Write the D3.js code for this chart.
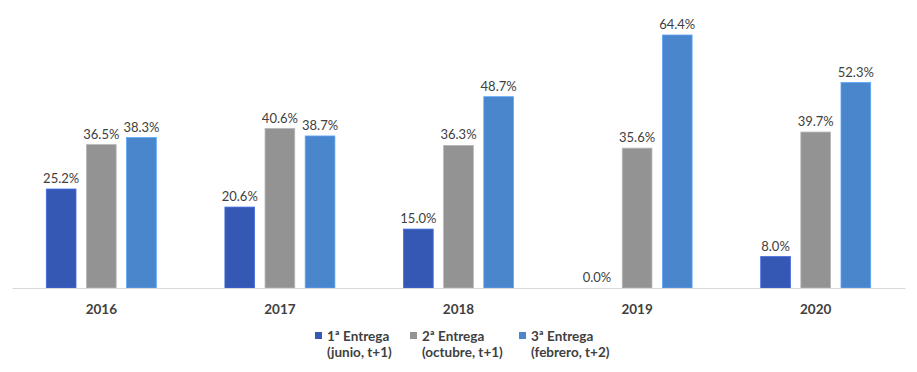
<!DOCTYPE html>
<html>
<head>
<meta charset="utf-8">
<script src="https://cdn.jsdelivr.net/npm/d3@7"></script>
<style>
  body { margin: 0; background: #fff; }
  svg { display: block; font-family: Lato, "Open Sans", sans-serif; }
</style>
</head>
<body>
<svg id="chart" width="917" height="372"></svg>
<script>
// ── Data ──────────────────────────────────────────────────────────
const years = ['2016', '2017', '2018', '2019', '2020'];
const seriesKeys = ['e1', 'e2', 'e3'];
const entrega1 = [25.2, 20.6, 15.0, 0.0, 8.0];
const entrega2 = [36.5, 40.6, 36.3, 35.6, 39.7];
const entrega3 = [38.3, 38.7, 48.7, 64.4, 52.3];
const legendLine1 = ['1ª Entrega', '2ª Entrega', '3ª Entrega'];
const legendLine2 = ['(junio, t+1)', '(octubre, t+1)', '(febrero, t+2)'];
const colors = ['#3558b5', '#939393', '#4a86cb'];

const rows = years.map((y, i) => ({ year: y, e1: entrega1[i], e2: entrega2[i], e3: entrega3[i] }));

// ── Layout ────────────────────────────────────────────────────────
const svg = d3.select('#chart');
const left = 12, right = 905, baseY = 288;

const x0 = d3.scaleBand().domain(years).range([left, right]).paddingInner(0).paddingOuter(0);
const x1 = d3.scaleBand().domain(seriesKeys).range([0, 110]).paddingInner(0.26).paddingOuter(0);
const y = d3.scaleLinear().domain([0, 64.4]).range([baseY, 35]);
const color = d3.scaleOrdinal().domain(seriesKeys).range(colors);

// ── Bars ──────────────────────────────────────────────────────────
const groups = svg.append('g').selectAll('g')
  .data(rows)
  .join('g')
  .attr('transform', d => `translate(${x0(d.year) + x0.bandwidth() / 2 - 55},0)`);

const cells = groups.selectAll('g')
  .data(d => seriesKeys.map(k => ({ key: k, value: d[k] })))
  .join('g');

cells.append('rect')
  .attr('x', d => x1(d.key))
  .attr('width', x1.bandwidth())
  .attr('y', d => y(d.value))
  .attr('height', d => baseY - y(d.value))
  .attr('fill', d => color(d.key))
  .attr('stroke', d => d3.color(color(d.key)).brighter(0.6))
  .attr('stroke-width', 0.8);

cells.append('text')
  .attr('x', d => x1(d.key) + x1.bandwidth() / 2)
  .attr('y', d => y(d.value) - 6)
  .attr('text-anchor', 'middle')
  .attr('font-size', 13)
  .attr('fill', '#404040')
  .text(d => d.value.toFixed(1) + '%');

// ── Axis ──────────────────────────────────────────────────────────
const xAxis = svg.append('g')
  .attr('transform', `translate(0,${baseY})`)
  .call(d3.axisBottom(x0).tickSize(0).tickPadding(16));
xAxis.select('.domain').attr('stroke', '#d9d9d9').attr('stroke-width', 1);
xAxis.selectAll('text')
  .attr('font-family', 'Lato, sans-serif')
  .attr('font-size', 13.5)
  .attr('font-weight', 'bold')
  .attr('fill', '#404040');

// ── Legend ────────────────────────────────────────────────────────
const legendX = [315, 410, 519];
const legend = svg.append('g').selectAll('g')
  .data(seriesKeys)
  .join('g')
  .attr('transform', (d, i) => `translate(${legendX[i]},0)`);

legend.append('rect')
  .attr('x', 0).attr('y', 332)
  .attr('width', 7).attr('height', 7)
  .attr('fill', d => color(d));

const lt = legend.append('text')
  .attr('font-size', 13.5)
  .attr('font-weight', 'bold')
  .attr('fill', '#404040');
lt.append('tspan').attr('x', 12).attr('y', 341).text((d, i) => legendLine1[i]);
lt.append('tspan').attr('x', 12).attr('y', 357).text((d, i) => legendLine2[i]);
</script>
</body>
</html>
